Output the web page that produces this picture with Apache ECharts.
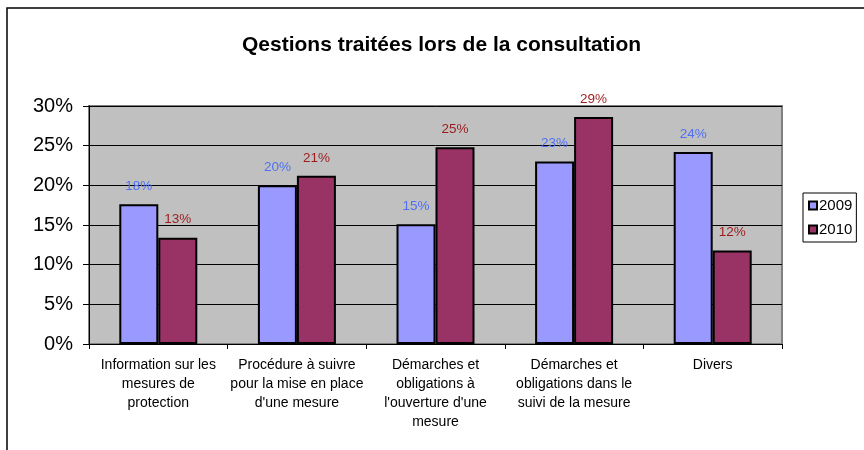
<!DOCTYPE html>
<html>
<head>
<meta charset="utf-8">
<script src="https://cdn.jsdelivr.net/npm/echarts@6/dist/echarts.min.js"></script>
<style>
  html, body { margin: 0; padding: 0; background: #fff; }
  #chart { width: 864px; height: 450px; }
</style>
</head>
<body>
<div id="chart"></div>
<script>
// categories on the x axis
var categories = [
    "Information sur les\nmesures de\nprotection",
    "Procédure à suivre\npour la mise en place\nd'une mesure",
    "Démarches et\nobligations à\nl'ouverture d'une\nmesure",
    "Démarches et\nobligations dans le\nsuivi de la mesure",
    "Divers"
];
// values in %
var values2009 = [17.6, 20.0, 15.1, 23.0, 24.2];
var values2010 = [13.4, 21.2, 24.8, 28.6, 11.8];
var seriesNames = ["2009", "2010"];

var chart = echarts.init(document.getElementById("chart"));

var font = "Liberation Sans, Arial, sans-serif";

function barLabel(color){
    return {
        show: true,
        position: "top",
        distance: 11,
        color: color,
        fontSize: 13.5,
        fontFamily: font,
        formatter: function(p){
            return Math.round(p.value) + "%";
        }
    };
}

var option = {
    animation: false,
    graphic: [{
        type: "rect",
        shape: { x: 7, y: 8, width: 900, height: 500 },
        style: { fill: null, stroke: "#000", lineWidth: 1.5 },
        silent: true
    }],
    title: {
        text: "Qestions traitées lors de la consultation",
        left: 237,
        top: 30,
        textStyle: {
            fontFamily: font,
            fontSize: 21,
            fontWeight: "bold",
            color: "#000"
        }
    },
    legend: {
        orient: "vertical",
        left: 803,
        top: 193,
        padding: [5, 4, 5, 5],
        itemWidth: 8,
        itemHeight: 8,
        itemGap: 9,
        borderColor: "#000",
        borderWidth: 1,
        icon: "rect",
        textStyle: { fontFamily: font, fontSize: 15, color: "#000", padding: [0, 0, 0, -3] },
        data: seriesNames
    },
    grid: {
        left: 89,
        top: 106,
        width: 693,
        height: 238,
        show: true,
        backgroundColor: "#c0c0c0",
        borderColor: "#808080",
        borderWidth: 2
    },
    xAxis: {
        type: "category",
        data: categories,
        axisLine: { lineStyle: { color: "#000", width: 1 } },
        axisTick: { show: true, length: 5, lineStyle: { color: "#000" } },
        axisLabel: {
            interval: 0,
            margin: 12,
            fontFamily: font,
            fontSize: 14,
            lineHeight: 19,
            color: "#000"
        }
    },
    yAxis: {
        type: "value",
        min: 0,
        max: 30,
        interval: 5,
        axisLine: { show: true, lineStyle: { color: "#000", width: 1 } },
        axisTick: { show: true, length: 6, lineStyle: { color: "#000" } },
        axisLabel: {
            formatter: "{value}%",
            margin: 16,
            fontFamily: font,
            fontSize: 20,
            color: "#000"
        },
        splitLine: { show: true, lineStyle: { color: "#000", width: 1 } }
    },
    series: [
        {
            name: seriesNames[0],
            type: "bar",
            data: values2009,
            barWidth: 39,
            barGap: "0%",
            itemStyle: { color: "#9999ff", borderColor: "#000", borderWidth: 2 },
            label: barLabel("#4f6ff5")
        },
        {
            name: seriesNames[1],
            type: "bar",
            data: values2010,
            barWidth: 39,
            barGap: "0%",
            itemStyle: { color: "#993366", borderColor: "#000", borderWidth: 2 },
            label: barLabel("#9c1c1c")
        }
    ]
};

chart.setOption(option);
</script>
</body>
</html>
